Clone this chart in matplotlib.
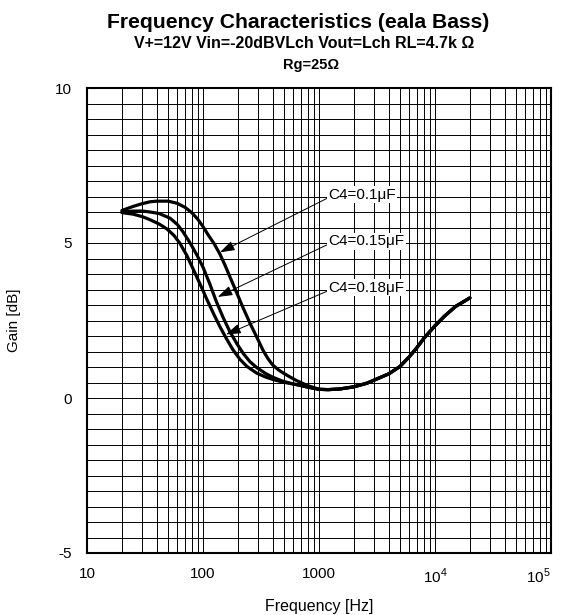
import matplotlib
matplotlib.use("Agg")
import matplotlib.pyplot as plt
from matplotlib.ticker import FixedLocator, NullFormatter

plt.rcParams['font.family'] = ['Liberation Sans', 'DejaVu Sans']
plt.rcParams['axes.unicode_minus'] = False
plt.rcParams['mathtext.fontset'] = 'custom'
plt.rcParams['mathtext.rm'] = 'Liberation Sans'

# data (Hz, dB)
freq_c1 = [20, 25, 30, 35, 40, 50, 60, 70, 80, 90, 100, 110, 125, 140, 155, 171, 195, 221, 255, 292, 330, 363, 400, 450, 500, 561, 650, 800]
gain_c1 = [6.05, 6.18, 6.27, 6.33, 6.35, 6.35, 6.28, 6.15, 5.98, 5.77, 5.53, 5.28, 4.97, 4.64, 4.28, 3.9, 3.4, 2.92, 2.4, 1.95, 1.53, 1.27, 1.06, 0.9, 0.79, 0.68, 0.55, 0.4]

freq_c2 = [20, 25, 30, 35, 42, 52, 60, 67, 78, 89, 100, 115, 130, 149, 170, 196, 222, 254, 291, 350, 400, 480, 561, 700, 800]
gain_c2 = [6.0, 6.03, 6.03, 6.0, 5.95, 5.8, 5.6, 5.37, 4.98, 4.6, 4.22, 3.66, 3.12, 2.6, 2.15, 1.75, 1.44, 1.17, 0.98, 0.78, 0.67, 0.55, 0.48, 0.4, 0.35]

freq_c3 = [20, 25, 30, 35, 42, 49, 56, 63, 72, 82, 95, 108, 124, 140, 160, 181, 208, 239, 291, 350, 400, 480, 561, 700, 800]
gain_c3 = [5.98, 5.93, 5.85, 5.75, 5.61, 5.45, 5.25, 5.0, 4.62, 4.17, 3.65, 3.18, 2.7, 2.3, 1.9, 1.56, 1.25, 1.02, 0.8, 0.67, 0.6, 0.52, 0.47, 0.4, 0.35]

# common tail, all three curves overlap above ~1 kHz
freq_tail = [1000, 1200, 1500, 2000, 2600, 3000, 4000, 5000, 6000, 7000, 8000, 10000, 12000, 15000, 20000]
gain_tail = [0.28, 0.27, 0.29, 0.36, 0.48, 0.58, 0.78, 1.02, 1.33, 1.63, 1.92, 2.33, 2.63, 2.95, 3.23]

labels = ["C4=0.1\u03bcF", "C4=0.15\u03bcF", "C4=0.18\u03bcF"]
label_pos = [(1200, 6.55), (1200, 5.05), (1200, 3.55)]
arrow_tip = [(140, 4.7), (134, 3.26), (158, 2.05)]

xtick_vals = [10, 100, 1000, 1e4, 1e5]
xtick_text = ["10", "100", "1000", "$10^4$", "$10^5$"]
ytick_vals = [-5, 0, 5, 10]

fig = plt.figure(figsize=(5.63, 6.15), dpi=100)
ax = fig.add_axes([87/563, 1-553/615, 464/563, 465/615])

for fr, gn in [(freq_c1, gain_c1), (freq_c2, gain_c2), (freq_c3, gain_c3)]:
    ax.plot(fr + freq_tail, gn + gain_tail, color='k', lw=2.3,
            solid_joinstyle='round', solid_capstyle='round', zorder=3)

ax.set_xscale('log')
ax.set_xlim(10, 1e5)
ax.set_ylim(-5, 10)
ax.xaxis.set_major_locator(FixedLocator(xtick_vals))
ax.set_xticklabels(xtick_text)
ax.xaxis.set_minor_locator(FixedLocator([m * 10**d for d in range(1, 5) for m in range(2, 10)]))
ax.xaxis.set_minor_formatter(NullFormatter())
ax.set_yticks(ytick_vals)
ax.set_yticks([v / 2 for v in range(-10, 21)], minor=True)
ax.grid(True, which='both', color='k', lw=0.7, zorder=1)
ax.tick_params(which='both', length=0, labelsize=11)
ax.tick_params(axis='y', pad=11)
ax.tick_params(axis='x', pad=10)
for s in ax.spines.values():
    s.set_linewidth(1.5)
# keep the 10^5 label inside the figure like the reference
ax.get_xticklabels()[-1].set_horizontalalignment('right')
ax.get_xticklabels()[-1].set_x(1e5 * 1.06)

for txt, pos, tip in zip(labels, label_pos, arrow_tip):
    ax.annotate(txt, xy=tip, xytext=pos, ha='left', va='center', fontsize=11,
                bbox=dict(boxstyle='square,pad=0.1', fc='white', ec='none'),
                arrowprops=dict(arrowstyle='-|>,head_length=0.6,head_width=0.2',
                                color='k', lw=0.7, mutation_scale=15,
                                relpos=(0, 0.3), shrinkA=0, shrinkB=0),
                zorder=4)

ax.set_xlabel("Frequency [Hz]", fontsize=11.5, labelpad=9)
ax.set_ylabel("Gain [dB]", fontsize=11, labelpad=24)

fig.text(0.53, 1-22/615, "Frequency Characteristics (eala Bass)", ha='center', va='center',
         fontsize=15.2, fontweight='bold')
fig.text(0.54, 1-44/615, "V+=12V Vin=-20dBVLch Vout=Lch RL=4.7k \u03a9", ha='center', va='center',
         fontsize=11.5, fontweight='bold')
fig.text(0.553, 1-65/615, "Rg=25\u03a9", ha='center', va='center', fontsize=10.5, fontweight='bold')

fig.savefig("out.png", dpi=100)
